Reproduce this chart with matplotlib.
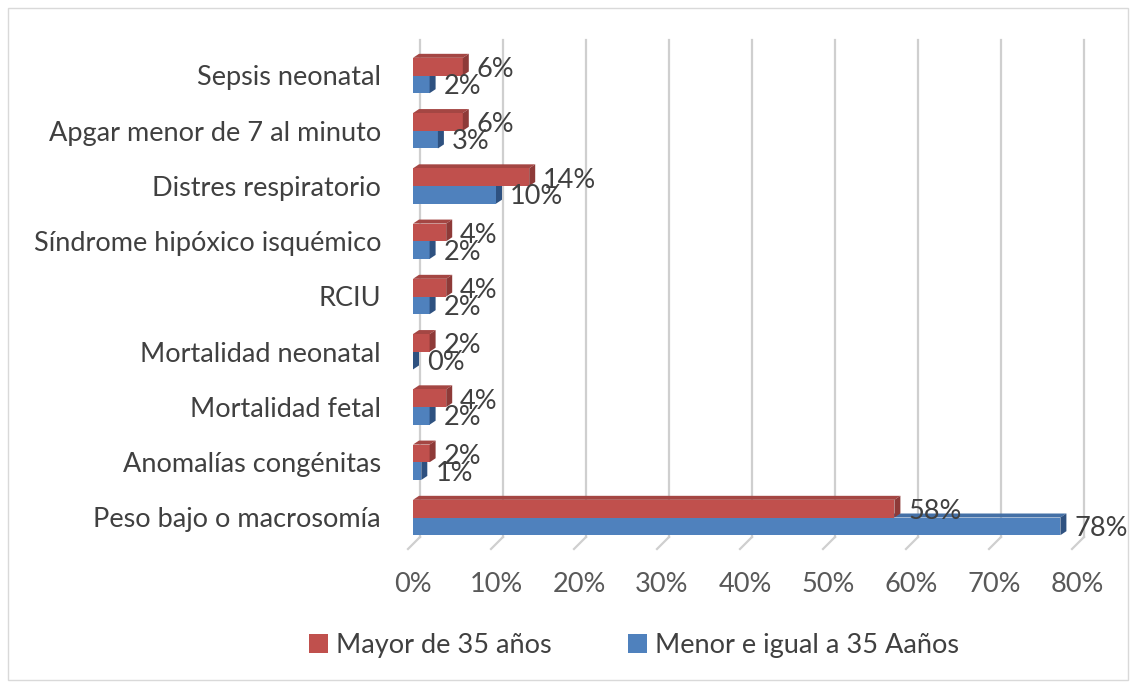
import matplotlib
matplotlib.use("Agg")
import matplotlib.pyplot as plt
from matplotlib.patches import Polygon, Patch, Rectangle

categories = ["Sepsis neonatal", "Apgar menor de 7 al minuto", "Distres respiratorio",
              "Síndrome hipóxico isquémico", "RCIU", "Mortalidad neonatal",
              "Mortalidad fetal", "Anomalías congénitas", "Peso bajo o macrosomía"]
mayor = [6, 6, 14, 4, 4, 2, 4, 2, 58]
menor = [2, 3, 10, 2, 2, 0, 2, 1, 78]
series_names = ["Mayor de 35 años", "Menor e igual a 35 Aaños"]
xticks = [0, 10, 20, 30, 40, 50, 60, 70, 80]
xticklabels = [f"{t}%" for t in xticks]

RED, RED_SIDE, RED_TOP = "#C0504D", "#8E3A38", "#A44643"
BLUE, BLUE_SIDE, BLUE_TOP = "#4F81BD", "#2E5180", "#4470A6"
FONT = "Lato"
FS = 19.5

W, H = 1136, 688
fig = plt.figure(figsize=(W / 100, H / 100), dpi=100)
left_px, right_px, top_px, bot_px = 413, 1077, 38, 540
ax = fig.add_axes([left_px / W, 1 - bot_px / H, (right_px - left_px) / W, (bot_px - top_px) / H])

n = len(categories)
pos = [n - 1 - i for i in range(n)]
ypx_per = 55.25
ax.set_xlim(0, 80)
ax.set_ylim(-(bot_px - 517.5) / ypx_per, (n - 1) + (75.5 - top_px) / ypx_per)

xpx_per = (right_px - left_px) / 80
dx = 6 / xpx_per
dy = 4 / ypx_per
bh = 0.32

# gridlines (back wall) with slanted ticks
for t in xticks:
    gx = t + 7 / xpx_per
    ax.plot([gx, gx], [-(537 - 517.5) / ypx_per, (n - 1) + (75.5 - 40) / ypx_per],
            color="#CFCFCF", lw=1.6, clip_on=False, zorder=0)
    ax.plot([gx, t - 5 / xpx_per], [-(537 - 517.5) / ypx_per, -(549 - 517.5) / ypx_per],
            color="#CFCFCF", lw=1.6, clip_on=False, zorder=0)

def bar3d(v, yc, front, side, top):
    yb, yt = yc - bh / 2, yc + bh / 2
    ax.add_patch(Polygon([(0, yt), (dx, yt + dy), (v + dx, yt + dy), (v, yt)],
                         closed=True, facecolor=top, edgecolor="none", zorder=2, clip_on=False))
    ax.add_patch(Rectangle((0, yb), v, bh, facecolor=front, edgecolor="none", zorder=2, clip_on=False))
    ax.add_patch(Polygon([(v, yb), (v, yt), (v + dx, yt + dy), (v + dx, yb + dy)],
                         closed=True, facecolor=side, edgecolor="none", zorder=2, clip_on=False))

for p, vr, vb in zip(pos, mayor, menor):
    bar3d(vb, p - bh / 2, BLUE, BLUE_SIDE, BLUE_TOP)
    bar3d(vr, p + bh / 2, RED, RED_SIDE, RED_TOP)

for p, vr, vb in zip(pos, mayor, menor):
    ax.annotate(f"{vb}%", (vb + dx, p - bh / 2), xytext=(8, -2), textcoords="offset pixels",
                ha="left", va="center", fontsize=FS, family=FONT, color="#404040",
                annotation_clip=False, zorder=3)
    ax.annotate(f"{vr}%", (vr + dx, p + bh / 2), xytext=(8, -3), textcoords="offset pixels",
                ha="left", va="center", fontsize=FS, family=FONT, color="#404040",
                annotation_clip=False, zorder=4)

ax.set_xticks(xticks)
ax.set_xticklabels(xticklabels, fontsize=FS, family=FONT, color="#595959")
ax.set_yticks(pos)
ax.set_yticklabels(categories, fontsize=FS, family=FONT, color="#404040")
ax.tick_params(axis="x", length=0, pad=23)
ax.tick_params(axis="y", length=0, pad=23)
for s in ax.spines.values():
    s.set_visible(False)
ax.patch.set_alpha(0)

handles = [Patch(facecolor=RED, edgecolor="none"), Patch(facecolor=BLUE, edgecolor="none")]
fig.legend(handles, series_names, loc="center", bbox_to_anchor=(634 / W, 1 - 645 / H),
           ncol=2, frameon=False, prop={"family": FONT, "size": FS},
           handlelength=0.7, handleheight=0.7, handletextpad=0.3, columnspacing=2.8,
           labelcolor="#404040")

fig.patches.append(Rectangle((8 / W, 8 / H), 1 - 16 / W, 1 - 16 / H, transform=fig.transFigure,
                             fill=False, edgecolor="#D9D9D9", lw=1))

fig.savefig("out.png", dpi=100)
